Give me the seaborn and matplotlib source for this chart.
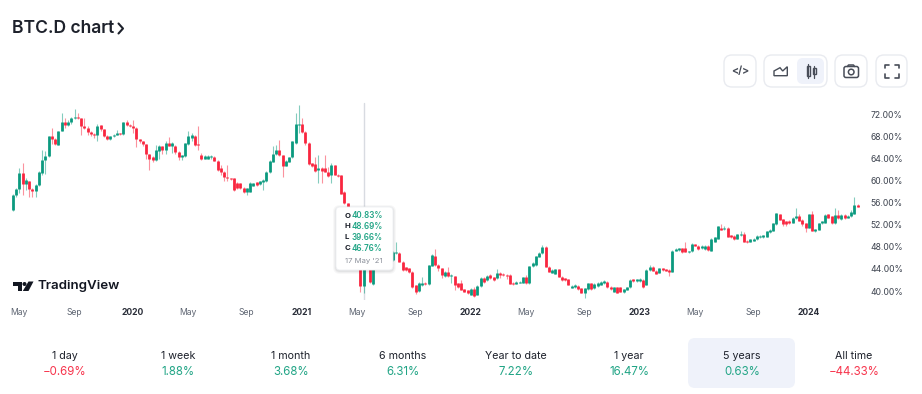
import pandas as pd
import matplotlib
matplotlib.use("Agg")
import matplotlib.pyplot as plt
from matplotlib.patches import FancyBboxPatch, Circle, Polygon, Rectangle
import seaborn as sns

# Weekly BTC.D candles (percent)
opens = [54.7, 57.4, 58.5, 61.3, 59.3, 59.9, 58.4, 58.1, 59.2, 61.3, 63.7, 64.4, 68.1, 67.5, 66.5, 68.9, 70.7, 70.1, 70.6, 71.3,
         71.6, 71.3, 69.8, 69.6, 68.8, 68.5, 68.3, 70.0, 69.3, 68.1, 67.5, 68.0, 68.3, 68.6, 68.4, 70.6, 70.1, 69.8, 69.6, 67.5,
         67.1, 66.6, 64.8, 64.2, 63.7, 65.4, 66.2, 65.5, 66.9, 66.2, 66.3, 65.2, 64.3, 64.5, 66.6, 67.7, 68.1, 66.6, 64.6, 64.0,
         64.0, 64.2, 64.3, 63.6, 62.3, 61.6, 60.7, 60.4, 60.4, 59.6, 59.5, 58.7, 58.0, 58.0, 59.1, 59.7, 59.3, 59.7, 59.9, 61.5,
         63.4, 64.8, 65.5, 64.6, 62.7, 63.4, 64.2, 66.8, 70.1, 70.2, 68.8, 66.9, 63.1, 63.0, 61.9, 62.3, 62.3, 61.6, 61.0, 62.8,
         61.1, 61.0, 58.0, 55.9, 54.7, 52.5, 50.5, 46.0, 40.83, 46.76, 44.5, 41.2, 45.3, 46.0, 45.5, 45.0, 45.6, 45.6, 46.8, 46.8,
         45.3, 44.3, 44.1, 43.5, 41.0, 40.0, 41.0, 41.5, 41.2, 44.6, 46.3, 44.8, 44.1, 42.7, 43.5, 42.7, 42.7, 41.4, 41.4, 40.3,
         40.1, 39.3, 40.3, 39.3, 40.9, 42.3, 42.0, 42.9, 42.5, 42.3, 43.2, 43.1, 42.9, 42.9, 41.5, 41.3, 41.5, 41.5, 42.5, 41.4,
         44.5, 44.7, 46.2, 46.8, 48.0, 44.4, 43.3, 43.1, 43.9, 42.6, 42.3, 42.1, 40.6, 40.7, 40.9, 40.5, 39.6, 40.3, 41.4, 40.5,
         40.9, 41.1, 41.4, 41.7, 40.8, 39.9, 40.7, 40.7, 39.8, 40.2, 40.7, 42.1, 41.8, 41.8, 42.0, 41.1, 43.8, 44.3, 43.7, 43.3,
         44.1, 43.9, 43.8, 43.5, 47.3, 47.4, 47.7, 47.7, 47.0, 47.2, 48.5, 48.2, 47.7, 47.6, 48.2, 47.3, 48.9, 49.5, 51.5, 51.2,
         51.5, 50.1, 50.0, 49.5, 50.1, 50.4, 49.1, 48.9, 49.1, 49.4, 49.7, 49.7, 49.8, 50.6, 50.9, 52.1, 53.9, 53.0, 52.6, 52.7,
         52.4, 53.2, 53.6, 52.9, 52.3, 51.5, 53.9, 50.8, 51.1, 52.3, 52.4, 53.9, 53.5, 52.3, 53.8, 53.0, 53.8, 53.3, 53.5, 54.0,
         55.6]
highs = [57.5, 58.6, 62.2, 63.2, 60.4, 60.0, 58.6, 59.4, 61.7, 65.5, 65.3, 68.1, 69.5, 67.7, 69.0, 72.2, 71.3, 70.9, 71.6, 72.9,
         72.2, 71.4, 71.3, 69.8, 69.0, 68.6, 70.2, 70.1, 69.4, 68.2, 68.1, 68.5, 69.1, 68.7, 70.7, 70.9, 70.3, 71.0, 69.7, 67.6,
         67.2, 66.7, 64.9, 64.4, 66.4, 66.5, 66.3, 67.1, 67.9, 67.0, 66.4, 65.3, 64.7, 66.9, 68.9, 68.6, 68.3, 69.8, 65.0, 64.6,
         64.6, 64.7, 64.4, 63.7, 62.8, 61.7, 62.8, 60.5, 60.5, 59.7, 59.6, 58.8, 58.7, 59.8, 59.6, 59.8, 60.0, 60.3, 61.7, 63.7,
         66.3, 66.5, 67.4, 64.7, 63.7, 64.3, 67.2, 72.2, 73.7, 71.3, 68.9, 67.0, 63.2, 64.3, 64.6, 62.4, 64.6, 62.5, 63.1, 62.9,
         61.2, 61.1, 58.1, 56.0, 54.8, 53.0, 50.8, 46.5, 48.69, 47.5, 45.0, 45.5, 46.5, 46.2, 45.8, 46.0, 45.9, 47.2, 48.9, 47.0,
         45.4, 44.4, 44.2, 43.6, 41.1, 41.7, 42.6, 41.6, 44.8, 46.7, 47.6, 44.9, 44.2, 43.7, 44.4, 43.1, 42.8, 41.5, 42.0, 40.4,
         40.2, 40.6, 40.8, 41.0, 42.5, 42.5, 42.9, 43.0, 42.6, 44.0, 43.4, 43.3, 43.0, 43.0, 41.6, 41.8, 41.8, 42.6, 42.9, 44.6,
         45.3, 46.4, 47.1, 48.3, 48.1, 44.5, 44.0, 44.0, 44.0, 42.7, 42.4, 42.2, 41.0, 41.2, 41.0, 40.6, 40.6, 41.5, 41.5, 41.4,
         41.6, 41.8, 42.0, 41.8, 40.9, 40.8, 40.8, 40.8, 40.4, 40.8, 42.1, 42.2, 42.2, 42.3, 42.1, 44.0, 44.7, 44.5, 43.8, 44.2,
         44.2, 44.0, 43.9, 47.4, 47.7, 47.8, 47.8, 48.8, 47.3, 48.7, 48.6, 48.3, 48.3, 48.3, 48.3, 49.6, 49.8, 51.8, 52.2, 51.7,
         51.6, 50.2, 50.1, 50.4, 50.8, 50.7, 49.2, 49.5, 49.6, 50.1, 50.1, 50.2, 50.9, 51.2, 52.4, 54.2, 54.0, 53.1, 52.7, 52.8,
         53.4, 55.1, 53.9, 53.0, 52.4, 54.0, 54.5, 51.3, 52.4, 52.7, 53.9, 54.0, 53.6, 55.0, 54.7, 53.9, 53.9, 53.8, 54.6, 57.1,
         55.7]
lows = [54.5, 57.0, 57.7, 57.4, 58.3, 57.1, 57.1, 57.1, 59.0, 61.0, 61.2, 64.3, 66.6, 66.5, 66.4, 68.9, 69.5, 69.9, 70.3, 71.2,
        71.1, 68.3, 69.4, 68.3, 68.0, 67.7, 67.1, 69.0, 67.9, 67.4, 67.3, 67.9, 68.2, 68.3, 68.3, 69.9, 69.7, 68.6, 66.0, 66.8,
        66.3, 64.0, 61.9, 63.4, 63.5, 63.9, 64.9, 64.8, 66.2, 65.0, 64.9, 63.8, 63.8, 64.3, 66.4, 67.2, 66.3, 65.5, 63.7, 63.9,
        63.9, 64.0, 63.5, 61.8, 61.0, 60.0, 59.9, 60.1, 58.2, 58.4, 58.5, 57.7, 57.4, 57.9, 59.0, 59.1, 59.2, 58.3, 59.8, 61.4,
        63.3, 64.7, 64.5, 60.7, 62.6, 63.3, 64.1, 66.7, 68.6, 68.7, 66.4, 62.9, 62.5, 61.6, 59.6, 59.6, 61.5, 60.7, 59.5, 61.0,
        60.6, 57.5, 55.8, 54.6, 52.2, 50.2, 45.5, 39.9, 39.66, 44.2, 41.4, 41.1, 45.0, 45.1, 44.6, 44.8, 44.4, 45.4, 46.7, 45.2,
        43.7, 43.6, 43.3, 40.6, 39.5, 39.8, 40.9, 41.1, 41.1, 44.5, 44.6, 43.7, 42.3, 42.5, 42.5, 41.4, 40.2, 40.6, 40.1, 39.8,
        39.4, 39.2, 39.0, 39.2, 40.8, 41.5, 41.9, 42.2, 41.8, 42.2, 42.4, 42.7, 42.1, 41.2, 41.1, 41.2, 41.4, 41.4, 41.3, 41.3,
        44.3, 44.6, 46.1, 46.7, 44.3, 43.4, 43.2, 43.0, 42.5, 41.8, 41.9, 41.0, 40.5, 40.6, 40.2, 39.6, 38.7, 40.2, 40.2, 40.4,
        40.8, 41.0, 41.3, 40.6, 40.2, 39.8, 39.6, 39.8, 39.7, 40.1, 40.6, 41.7, 41.7, 41.6, 40.6, 41.0, 43.7, 43.6, 43.0, 43.2,
        43.7, 43.6, 42.7, 43.4, 47.2, 47.3, 46.8, 47.0, 46.9, 47.1, 48.1, 47.5, 47.6, 47.5, 47.3, 47.2, 48.8, 49.4, 51.0, 51.1,
        49.7, 49.6, 49.2, 49.4, 50.0, 48.8, 48.7, 48.8, 49.0, 49.3, 49.6, 49.6, 49.7, 50.5, 50.8, 52.0, 52.8, 51.8, 51.7, 52.2,
        52.3, 53.1, 52.6, 51.8, 50.6, 51.4, 50.8, 50.7, 51.0, 52.2, 52.3, 53.2, 52.2, 52.2, 53.1, 52.9, 53.0, 53.2, 53.4, 53.9,
        55.2]
closes = [57.4, 58.5, 61.3, 59.3, 60.1, 58.4, 58.1, 59.2, 61.5, 63.7, 64.4, 68.0, 67.5, 66.6, 68.9, 70.7, 70.1, 70.6, 71.3, 71.6,
          71.3, 69.8, 69.5, 68.8, 68.4, 68.3, 69.9, 69.3, 68.1, 67.5, 68.0, 68.3, 68.6, 68.4, 70.6, 70.0, 69.8, 69.6, 67.5, 67.1,
          66.6, 64.9, 64.0, 63.7, 65.5, 66.2, 65.5, 66.9, 66.3, 66.9, 65.2, 64.3, 64.6, 66.8, 68.0, 68.3, 66.5, 66.4, 64.0, 64.4,
          64.4, 64.4, 63.6, 61.9, 61.5, 60.6, 60.4, 60.2, 58.3, 58.6, 58.7, 58.0, 58.6, 59.6, 59.5, 59.2, 59.9, 60.1, 61.6, 63.6,
          64.9, 65.5, 64.6, 62.7, 63.6, 64.2, 67.1, 70.2, 70.2, 68.8, 66.8, 63.0, 62.7, 61.7, 62.2, 61.7, 61.6, 60.8, 62.8, 61.1,
          60.8, 57.6, 55.9, 54.7, 52.5, 50.5, 46.0, 40.83, 46.76, 44.5, 41.6, 45.3, 46.0, 45.5, 45.0, 45.6, 44.8, 47.1, 47.1, 45.3,
          43.8, 43.8, 43.5, 40.8, 39.9, 41.5, 41.5, 41.2, 44.7, 46.5, 44.7, 44.1, 42.9, 43.5, 42.7, 42.9, 41.1, 40.8, 40.2, 39.9,
          39.6, 40.3, 39.1, 40.9, 42.4, 41.7, 42.7, 42.3, 42.0, 43.2, 42.9, 42.9, 42.7, 41.3, 41.3, 41.6, 41.7, 42.5, 41.4, 44.5,
          45.0, 46.3, 46.9, 48.0, 44.4, 43.5, 43.8, 43.9, 42.6, 42.0, 42.0, 41.1, 40.9, 41.1, 40.3, 39.7, 40.5, 41.4, 40.3, 41.3,
          41.4, 41.7, 41.8, 40.7, 40.3, 40.7, 39.7, 39.9, 40.3, 40.7, 42.0, 41.8, 42.1, 42.1, 40.7, 43.8, 44.4, 43.7, 43.1, 44.1,
          43.8, 43.7, 43.5, 47.3, 47.6, 47.7, 47.1, 47.1, 47.2, 48.6, 48.2, 47.6, 48.2, 48.2, 47.4, 49.5, 49.7, 51.7, 51.1, 51.5,
          49.8, 49.7, 49.4, 50.3, 50.4, 48.9, 48.8, 49.4, 49.5, 50.0, 50.0, 50.1, 50.8, 51.1, 52.3, 54.1, 52.9, 52.1, 52.1, 52.3,
          53.3, 53.5, 52.7, 52.1, 51.4, 53.9, 50.9, 51.2, 52.3, 52.6, 53.8, 53.3, 52.3, 53.8, 53.2, 53.8, 53.2, 53.6, 54.4, 55.6,
          55.3]

y_ticks = [40, 44, 48, 52, 56, 60, 64, 68, 72]
x_tick_dates = ["2019-05-06", "2019-09-02", "2020-01-06", "2020-05-04", "2020-09-07", "2021-01-04", "2021-05-03",
                "2021-09-06", "2022-01-03", "2022-05-02", "2022-09-05", "2023-01-02", "2023-05-01", "2023-09-04", "2024-01-01"]
x_tick_labels = ["May", "Sep", "2020", "May", "Sep", "2021", "May", "Sep", "2022", "May", "Sep", "2023", "May", "Sep", "2024"]

# Period performance row
periods = ["1 day", "1 week", "1 month", "6 months", "Year to date", "1 year", "5 years", "All time"]
changes = ["−0.69%", "1.88%", "3.68%", "6.31%", "7.22%", "16.47%", "0.63%", "−44.33%"]
period_x = [65, 178, 291, 403, 516, 629, 742, 854]

hover_date = "2021-05-17"
hover_labels = ["O", "H", "L", "C"]
hover_values = ["40.83%", "48.69%", "39.66%", "46.76%"]

GREEN = "#0b9a7f"
RED = "#f9263f"
GREEN_TXT = "#22a586"
RED_TXT = "#f7344c"
DARK = "#1d212b"
GREY = "#5f6673"

sns.set_theme(style="white")
plt.rcParams["font.family"] = ["Inter", "DejaVu Sans"]

# long form table: every candle gets two points for wick and two for body
dates = pd.date_range("2019-04-22", periods=len(closes), freq="7D")
df = pd.DataFrame({"date": dates, "open": opens, "high": highs, "low": lows, "close": closes})
df["direction"] = ["up" if c >= o else "down" for o, c in zip(df["open"], df["close"])]
wicks = df.melt(id_vars=["date", "direction"], value_vars=["high", "low"], value_name="price")
bodies = df.melt(id_vars=["date", "direction"], value_vars=["open", "close"], value_name="price")
palette = {"up": GREEN, "down": RED}

fig = plt.figure(figsize=(9.22, 3.94), dpi=100)
ax = fig.add_axes([0, 94 / 394, 860 / 922, 200 / 394])

sns.lineplot(data=wicks, x="date", y="price", hue="direction", units="date", estimator=None, palette=palette,
             linewidth=0.8, alpha=0.5, solid_capstyle="butt", legend=False, ax=ax)
sns.lineplot(data=bodies, x="date", y="price", hue="direction", units="date", estimator=None, palette=palette,
             linewidth=2.0, solid_capstyle="butt", legend=False, ax=ax)

hover = pd.Timestamp(hover_date)
ax.axvline(hover, ymax=0.985, color="#d8dbe1", lw=1, zorder=1)
ax.set_xlim(hover - pd.Timedelta(days=783.5), hover + pd.Timedelta(days=1068.9))
ax.set_ylim(38.37, 74.6)
ax.set_xlabel("")
ax.set_ylabel("")
sns.despine(ax=ax, left=True, bottom=True, right=True, top=True)

ax.yaxis.tick_right()
ax.set_yticks(y_ticks)
ax.set_yticklabels([f"{v:.2f}%" for v in y_ticks], fontsize=6.2, color="#3c424e")
ax.tick_params(axis="y", length=0, pad=7.5)
ax.set_xticks(pd.to_datetime(x_tick_dates))
ax.set_xticklabels(x_tick_labels, fontsize=6.2, color=GREY)
ax.tick_params(axis="x", length=0, pad=6)
for lab in ax.get_xticklabels():
    if lab.get_text().startswith("20"):
        lab.set_fontweight("bold")
        lab.set_color("#2a2e39")

# overlay in pixel coordinates for the page furniture around the chart
ui = fig.add_axes([0, 0, 1, 1], zorder=5)
ui.set_xlim(0, 922)
ui.set_ylim(394, 0)
ui.axis("off")
ui.patch.set_alpha(0)


def box(x0, y0, x1, y1, r, **kw):
    p = FancyBboxPatch((x0 + r, y0 + r), x1 - x0 - 2 * r, y1 - y0 - 2 * r,
                       boxstyle=f"round,pad={r},rounding_size={r}", **kw)
    ui.add_patch(p)


ui.text(12, 28, "BTC.D chart", fontsize=12.6, fontweight=600, color=DARK, va="center")
ui.plot([118.5, 123, 118.5], [23.5, 28.5, 33.5], color=DARK, lw=1.5)

# toolbar buttons
border = "#e9ebf0"
for x0, x1 in [(724, 756), (764, 827), (835, 867), (876, 907)]:
    box(x0, 55, x1, 87, 8, fc="white", ec=border, lw=1)
box(797, 58, 824, 84, 6, fc="#eff2fa", ec="none")
icon = "#484d58"
ui.text(740, 70.5, "</>", fontsize=7.5, fontweight="bold", color=icon, ha="center", va="center")
ui.add_patch(Polygon([(774, 75.7), (774, 71), (780, 67.7), (782.7, 71), (787.3, 66.7), (787.3, 75.7)],
                     closed=True, fc="none", ec=icon, lw=1))
ui.add_patch(Rectangle((806.7, 65.7), 3.3, 10, fc="none", ec=icon, lw=1))
ui.add_patch(Rectangle((812.7, 68.3), 3.3, 6, fc="none", ec=icon, lw=1))
ui.plot([808.3, 808.3], [64, 77.7], color=icon, lw=0.9)
ui.plot([814.3, 814.3], [65.7, 77.7], color=icon, lw=0.9)
box(844, 66.5, 858.5, 77.5, 2, fc="none", ec=icon, lw=1.1)
ui.plot([847.5, 848.5, 853.5, 854.5], [66.5, 65, 65, 66.5], color=icon, lw=1.1)
ui.add_patch(Circle((851.2, 72), 2.8, fc="none", ec=icon, lw=1.1))
for cx, cy, dx, dy in [(885, 64.5, 1, 1), (898.5, 64.5, -1, 1), (885, 77.5, 1, -1), (898.5, 77.5, -1, -1)]:
    ui.plot([cx + 3.5 * dx, cx, cx], [cy, cy, cy + 3.5 * dy], color=icon, lw=1.2)

# hover tooltip with soft shadow
for grow, a in [(3, 0.03), (2, 0.04), (1, 0.06)]:
    box(336 - grow, 207 - grow + 1, 393 + grow, 270 + grow + 1, 4 + grow, fc="#20252f", ec="none", alpha=a)
box(336, 207, 393, 270, 4, fc="white", ec="#eef0f3", lw=0.6)
for yy, key, val in zip([215.7, 226.3, 237.3, 248], hover_labels, hover_values):
    ui.text(344.5, yy, key, fontsize=5.6, fontweight="bold", color=DARK, va="center")
    ui.text(352, yy, val, fontsize=5.8, fontweight=600, color=GREEN_TXT, va="center")
ui.text(344.5, 261, "17 May '21", fontsize=5.6, color="#8b909a", va="center")

# TradingView logo
logo = "#131722"
ui.add_patch(Polygon([(12.7, 281.5), (22, 281.5), (22, 291), (17.5, 291), (17.5, 285.5), (12.7, 285.5)], closed=True, fc=logo, ec="none"))
ui.add_patch(Circle((24.5, 284), 2, fc=logo, ec="none"))
ui.add_patch(Polygon([(28.5, 281.5), (33.5, 281.5), (28.5, 291), (22.8, 291)], closed=True, fc=logo, ec="none"))
ui.text(37.5, 286.5, "TradingView", fontsize=9.6, fontweight=600, color=logo, va="center")

# period row
box(688, 338, 795, 388, 7, fc="#eff2fa", ec="none")
for xx, name, val in zip(period_x, periods, changes):
    ui.text(xx, 356, name, fontsize=7.7, color=DARK, ha="center", va="center")
    col = RED_TXT if val.startswith("−") else GREEN_TXT
    ui.text(xx, 372, val, fontsize=8.3, color=col, ha="center", va="center")

fig.savefig("out.png", dpi=100, facecolor="white")
